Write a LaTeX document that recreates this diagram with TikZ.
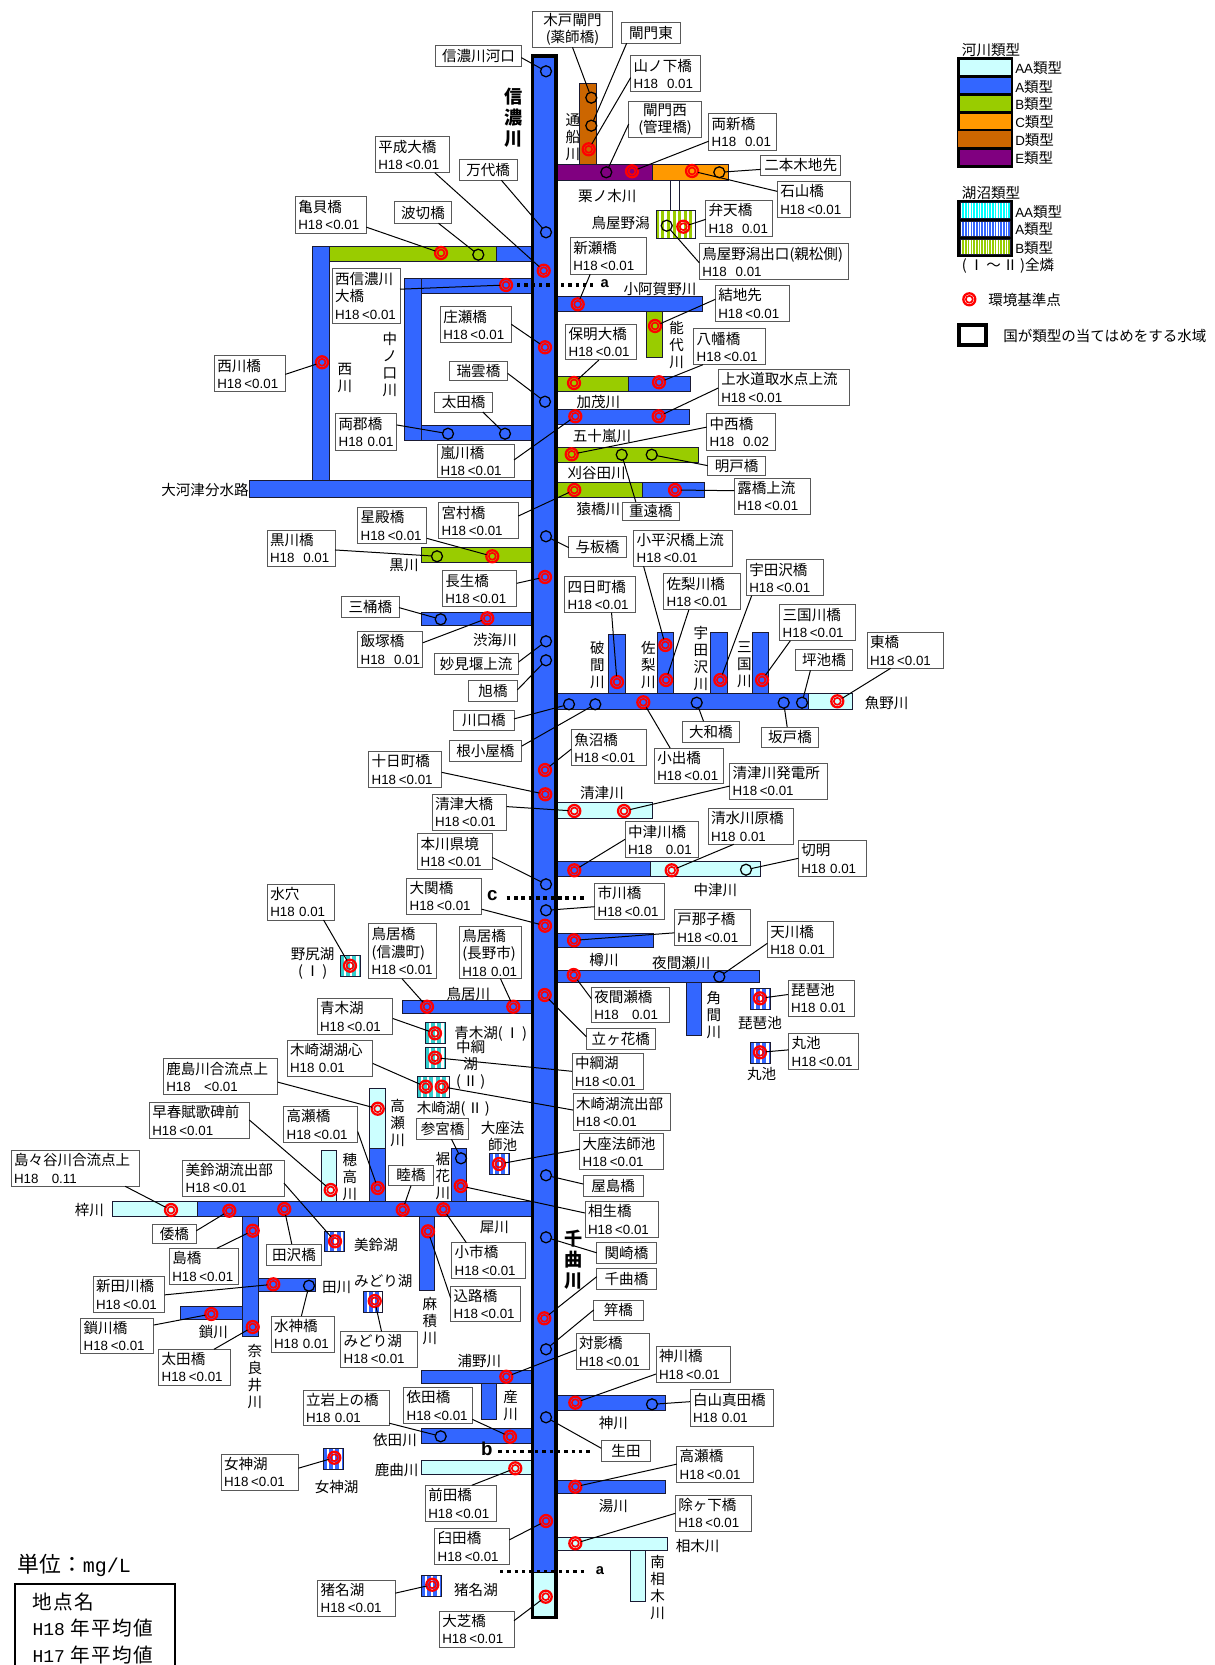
\documentclass[tikz,border=0pt]{standalone}
\usepackage{fontspec}
\setmainfont{Liberation Sans}
\setmonofont{Liberation Mono}
\newfontfamily\cjk[Scale=1.09]{Noto Sans CJK JP}
\usetikzlibrary{calc}
\definecolor{cAA}{HTML}{CCFFFF}
\definecolor{cA}{HTML}{3366FF}
\definecolor{cB}{HTML}{99CC00}
\definecolor{cC}{HTML}{FF9900}
\definecolor{cD}{HTML}{CC6600}
\definecolor{cE}{HTML}{800080}
\definecolor{lAA}{HTML}{33CCCC}
\definecolor{lAAb}{HTML}{00FFFF}
\definecolor{edgec}{HTML}{1A1A33}
\tikzset{
  lab/.style={draw=black!65,fill=white,line width=0.75pt,rectangle,inner xsep=2.25pt,inner ysep=0pt,outer sep=0pt,font=\fontsize{10}{13}\selectfont},
  conn/.style={draw=black,line width=0.75pt},
  openst/.style={circle,draw=black,line width=0.95pt,minimum size=8.25pt,inner sep=0pt,outer sep=0pt},
  envst/.style={circle,draw=red,line width=1.7pt,minimum size=9pt,inner sep=0pt,outer sep=0pt,
    path picture={\draw[red,line width=1.25pt] (path picture bounding box.center) circle (2.6pt);}},
  rv/.style={inner sep=0pt,align=center,font=\cjk\fontsize{10}{12.75}\selectfont},
  lg/.style={inner sep=0pt,anchor=west,font=\fontsize{10}{13}\selectfont},
  bigname/.style={inner sep=0pt,align=center,font=\cjk\bfseries\fontsize{12.5}{15.75}\selectfont},
  dots/.style={draw=black,line width=2.4pt,dash pattern=on 2.6pt off 2.9pt}
}
\newcount\rlc
\newcommand\VL{H18 \kern-1.3pt<0.01}
\newcommand\RV[3]{\global\advance\rlc by 1 \node[rv] (t\the\rlc) at (#1,#2) {#3};}
\newcommand\RR[5]{\draw[fill=#1,draw=edgec,line width=0.65pt] (#2,#3) rectangle (#4,#5);}
\newcommand\lake[7]{%
  \begin{scope}
  \clip (#1,#2) rectangle (#3,#4);
  \fill[#5] (#1,#2) rectangle (#3,#4);
  \pgfmathtruncatemacro\NN{(#3-#1)/#6+1}
  \foreach \k in {0,...,\NN}{\fill[white] ({#1+(\k+0.5)*#6},#2) rectangle ({#1+(\k+0.5)*#6+#7},#4);}
  \end{scope}%
  \draw[draw=edgec,line width=0.6pt] (#1,#2) rectangle (#3,#4);}
\newcommand\SE[3]{\node[envst] (s-#1) at (#2,#3) {};}
\newcommand\SO[3]{\node[openst] (s-#1) at (#2,#3) {};}
\newcommand\LB[7]{%
  \pgfmathsetmacro\TW{(#4-#2)*0.75-4.5}\pgfmathsetmacro\HH{(#5-#3)*0.75}%
  \node[lab,text width=\TW pt,minimum height=\HH pt,align=left] (l-#1) at ({(#2+#4)/2},{(#3+#5)/2}) {{\cjk #6}\\\mbox{#7}};}
\newcommand\LC[6]{%
  \pgfmathsetmacro\TW{(#4-#2)*0.75-4.5}\pgfmathsetmacro\HH{(#5-#3)*0.75}%
  \node[lab,text width=\TW pt,minimum height=\HH pt,align=center] (l-#1) at ({(#2+#4)/2},{(#3+#5)/2}) {\cjk #6};}
\newcommand\CS[2]{\draw[conn] ($(l-#1.south west)!#2!(l-#1.south east)$) -- (s-#1);}
\newcommand\CN[2]{\draw[conn] ($(l-#1.north west)!#2!(l-#1.north east)$) -- (s-#1);}
\newcommand\CW[2]{\draw[conn] ($(l-#1.north west)!#2!(l-#1.south west)$) -- (s-#1);}
\newcommand\CE[2]{\draw[conn] ($(l-#1.north east)!#2!(l-#1.south east)$) -- (s-#1);}
\begin{document}
\begin{tikzpicture}[x=0.75pt,y=-0.75pt]
\useasboundingbox (0,0) rectangle (1214,1665);
\fill[white] (0,0) rectangle (1214,1665);
% ---------- rivers, north part
\RR{cD}{579.3}{83.3}{596}{164}
\RR{cE}{556}{164}{652.7}{180.3}
\RR{cC}{652.7}{164}{728.3}{180.3}
\draw[draw=edgec,line width=0.65pt] (670,180.3) -- (670,210.3) (679.3,180.3) -- (679.3,210.3);
\lake{656}{210.3}{695}{238.3}{cB}{5.6}{2.6}
\RR{cA}{312.3}{246.7}{329.3}{480.7}
\RR{cB}{329.3}{246.7}{496}{261.7}
\RR{cA}{496}{246.7}{531}{261.7}
\RR{cA}{404.3}{278.7}{421.7}{440.3}
\RR{cA}{421.7}{278.7}{531}{293}
\RR{cA}{421.7}{425.3}{531}{440.3}
\RR{cA}{249.3}{480.7}{531}{497.3}
\RR{cA}{556}{296.3}{702.7}{311.7}
\RR{cB}{646.7}{311.7}{662.3}{357.7}
\RR{cB}{556}{376}{628.7}{391}
\RR{cA}{628.7}{376}{690}{391}
\RR{cA}{556}{409}{689.7}{424}
\RR{cB}{556}{447}{698.3}{462}
\RR{cB}{556}{482.3}{642.7}{497.3}
\RR{cA}{642.7}{482.3}{704.7}{497.3}
\RR{cB}{421.3}{547.3}{531}{562.3}
\RR{cA}{421.3}{612.7}{531}{625.7}
\RR{cA}{608.3}{634}{625}{693.3}
\RR{cA}{657}{632.3}{673.7}{693.3}
\RR{cA}{710.3}{632.3}{727}{693.3}
\RR{cA}{752}{632.3}{768.7}{693.3}
\RR{cA}{556}{693.3}{808}{709.7}
\RR{cAA}{808}{693.3}{852}{709.7}
\RR{cAA}{556}{802.7}{652.3}{818.3}
\RR{cA}{556}{861.3}{650.3}{876.3}
\RR{cAA}{650.3}{861.3}{760.3}{876.3}
\RR{cA}{556}{933}{653.3}{947.3}
\RR{cA}{686}{982.3}{701.3}{1035.7}
\RR{cA}{556}{970.3}{759.7}{982.3}
\lake{750.3}{988.3}{770.7}{1009.7}{cA}{6.4}{2.4}
\lake{750.3}{1042.7}{770.7}{1063.7}{cA}{6.4}{2.4}
% ---------- rivers, west middle
\RR{cA}{402.3}{1000.3}{531}{1013.3}
\lake{340.3}{955.3}{360.3}{976.7}{lAA}{6.4}{2.4}
\lake{425.3}{1022.3}{445.3}{1043.3}{lAA}{6.4}{2.4}
\lake{425.3}{1047.3}{445.3}{1068.3}{lAA}{6.4}{2.4}
\lake{417.3}{1076.7}{449.7}{1097.7}{lAA}{6.4}{2.4}
\RR{cAA}{369.7}{1088.3}{385}{1148.7}
\RR{cA}{369.7}{1148.7}{385}{1201.7}
\RR{cAA}{321.3}{1150.7}{336.7}{1201.7}
\RR{cA}{451.3}{1148}{466.7}{1201.7}
\lake{489.3}{1153.3}{509.7}{1174.3}{cA}{6.4}{2.4}
\RR{cAA}{112.7}{1201.7}{197.3}{1216.7}
\RR{cA}{242.7}{1216.7}{258.7}{1336.7}
\RR{cA}{197.3}{1201.7}{531}{1216.7}
\RR{cA}{258.7}{1278}{315}{1291.7}
\RR{cA}{180.3}{1306.7}{242.7}{1319.3}
\lake{324.7}{1231.3}{344.3}{1251.7}{cA}{6.4}{2.4}
\lake{363.3}{1291.7}{382.7}{1312.3}{cA}{6.4}{2.4}
\RR{cA}{419.7}{1216.7}{434.7}{1290.3}
\RR{cA}{421.3}{1370.3}{531}{1383.3}
\RR{cA}{481.3}{1383.3}{496.7}{1419.3}
\RR{cA}{421.3}{1428.3}{531}{1443}
\RR{cAA}{421.3}{1460.7}{531}{1474}
\lake{323.3}{1448.3}{343.7}{1469.3}{cA}{6.4}{2.4}
\lake{421.3}{1575.3}{441.7}{1596.3}{cA}{6.4}{2.4}
\RR{cA}{556}{1395.3}{665.7}{1410}
\RR{cA}{556}{1480.7}{665.7}{1493.3}
\RR{cAA}{630.7}{1550.7}{645.7}{1601.7}
\RR{cAA}{556}{1537.7}{667.3}{1550.7}
% ---------- main river
\fill[cA] (532,55) rectangle (556,1572);
\fill[cAA] (532,1572) rectangle (556,1618);
\draw[black,line width=0.75pt] (532,1572) -- (556,1572);
\draw[black,line width=2.6pt] (532.5,56) rectangle (556,1617.5);
% ---------- dotted section lines
\coordinate (da1) at (517,285); \coordinate (da2) at (593,285);
\coordinate (dc1) at (506.7,898); \coordinate (dc2) at (585,898);
\coordinate (db1) at (498.3,1451.3); \coordinate (db2) at (592.3,1451.3);
\coordinate (dd1) at (500,1571.7); \coordinate (dd2) at (585,1571.7);
\draw[dots] (da1) -- (da2);
\draw[dots] (dc1) -- (dc2);
\draw[dots] (db1) -- (db2);
\draw[dots] (dd1) -- (dd2);
\node[inner sep=0pt,font=\bfseries\fontsize{11}{12}\selectfont] (ma) at (604.7,283.3) {a};
\node[inner sep=0pt,font=\bfseries\fontsize{14}{14}\selectfont] (mc) at (492.3,896) {c};
\node[inner sep=0pt,font=\bfseries\fontsize{14}{14}\selectfont] (mb) at (486.7,1449) {b};
\node[inner sep=0pt,font=\bfseries\fontsize{11}{12}\selectfont] (mz) at (600,1570.5) {a};
% ---------- river names
\node[bigname] (shinano) at (513.3,117.7) {信\\濃\\川};
\node[bigname] (chikuma) at (573.3,1259.5) {千\\曲\\川};
\RV{573}{137}{通\\船\\川}
\RV{607.3}{195.7}{栗ノ木川}
\RV{620.7}{222.7}{鳥屋野潟}
\RV{660}{288.7}{小阿賀野川}
\RV{676.7}{345}{能\\代\\川}
\RV{598.3}{401.7}{加茂川}
\RV{602}{435.7}{五十嵐川}
\RV{596.7}{472.7}{刈谷田川}
\RV{598.3}{508.7}{猿橋川}
\RV{597.3}{664.7}{破\\間\\川}
\RV{648.3}{664.7}{佐\\梨\\川}
\RV{701}{659}{宇\\田\\沢\\川}
\RV{744.3}{664.7}{三\\国\\川}
\RV{886.7}{703.3}{魚野川}
\RV{495}{640}{渋海川}
\RV{404}{565.7}{黒川}
\RV{602}{792.7}{清津川}
\RV{715.3}{889.7}{中津川}
\RV{604}{960}{樽川}
\RV{681.3}{962.7}{夜間瀬川}
\RV{714}{1015}{角\\間\\川}
\RV{760}{1022.7}{琵琶池}
\RV{761.7}{1073.7}{丸池}
\RV{345}{378.3}{西\\川}
\RV{390}{364.5}{中\\ノ\\口\\川}
\RV{205}{490}{大河津分水路}
\RV{312.7}{963.5}{野尻湖\\(\,Ⅰ\,)}
\RV{468.3}{994}{鳥居川}
\RV{490.7}{1034.3}{青木湖(\,Ⅰ\,)}
\RV{470.7}{1065.3}{中綱\\湖\\(\,Ⅱ\,)}
\RV{453.3}{1109}{木崎湖(\,Ⅱ\,)}
\RV{502.7}{1136.7}{大座法\\師池}
\RV{397.7}{1123.3}{高\\瀬\\川}
\RV{350}{1177}{穂\\高\\川}
\RV{443}{1176.5}{裾\\花\\川}
\RV{494.3}{1227.7}{犀川}
\RV{89.3}{1210}{梓川}
\RV{376}{1245}{美鈴湖}
\RV{336.7}{1287}{田川}
\RV{383.3}{1280.7}{みどり湖}
\RV{213.3}{1332}{鎖川}
\RV{255}{1376.5}{奈\\良\\井\\川}
\RV{430}{1321}{麻\\積\\川}
\RV{479.3}{1361}{浦野川}
\RV{510.7}{1405.7}{産\\川}
\RV{395}{1440}{依田川}
\RV{396.7}{1470}{鹿曲川}
\RV{336.7}{1486.7}{女神湖}
\RV{476}{1590}{猪名湖}
\RV{613.3}{1422.7}{神川}
\RV{613.3}{1506}{湯川}
\RV{697.7}{1546}{相木川}
\RV{657.7}{1588}{南\\相\\木\\川}
% ---------- stations
\SO{kako}{546}{71.3}
\SO{kido}{591.3}{97.7}
\SO{komonh}{591.3}{125.7}
\SE{yamanoshita}{588.7}{149.3}
\SO{komonn}{606.3}{172.3}
\SE{ryoshin}{632}{171.3}
\SE{ishiyama}{692}{171}
\SO{nihongi}{719.3}{172.3}
\SE{benten}{683.3}{226.7}
\SO{toyano}{666.7}{225.7}
\SO{bandai}{546}{232.3}
\SE{heisei}{543.7}{270.7}
\SE{arase}{577.7}{304.3}
\SE{musubi}{655}{326}
\SE{shose}{545}{347.3}
\SE{homei}{574}{383}
\SE{hachiman}{659}{382.3}
\SO{zuiun}{545}{401.7}
\SO{namikiri}{478.3}{254.7}
\SE{kamegai}{441}{253}
\SE{nishishinano}{506}{285}
\SE{nishikawa}{322}{362.3}
\SO{ryogun}{448}{433.7}
\SO{ota}{505}{433.7}
\SE{arashi}{575.3}{416.3}
\SE{josui}{658.7}{416.3}
\SE{nakanishi}{571.7}{454.3}
\SO{shigeto}{621.7}{454.7}
\SO{myoto}{651.7}{454.7}
\SE{miyamura}{574.3}{490}
\SE{tsuyu}{675}{490}
\SO{yoita}{546}{536.3}
\SE{hoshidono}{492.3}{556.3}
\SO{kurokawa}{437}{556.3}
\SE{nagao}{545}{577}
\SO{mitsuoke}{440.7}{619.3}
\SE{iizuka}{487.3}{618.3}
\SO{myoken}{546}{641.3}
\SO{asahi}{546}{660.3}
\SO{kawaguchi}{569}{704.3}
\SE{yokka}{617}{682}
\SE{kodaira}{665.3}{645}
\SE{sanashi}{666}{680}
\SE{udazawa}{720.3}{680}
\SE{mikuni}{762}{680}
\SE{koide}{643.3}{702.3}
\SO{yamato}{696.7}{702.7}
\SO{sakado}{783.7}{702.7}
\SO{tsuboike}{802}{702.7}
\SE{higashi}{837.3}{701.3}
\SO{nekoya}{595.3}{704.3}
\SE{uonuma}{545}{770}
\SE{tokamachi}{545.3}{794.3}
\SE{kiyotsuo}{574.3}{811}
\SE{kiyotsuh}{624}{811}
\SO{honkawa}{546}{884.3}
\SE{nakatsu}{574.3}{870.3}
\SE{shimizu}{671.7}{870.3}
\SO{kiriake}{746}{869.7}
\SO{ichikawa}{546}{910.3}
\SE{ozeki}{545}{925.7}
\SE{tonako}{574}{940.3}
\SE{yomase}{573.7}{975}
\SO{amakawa}{719.3}{976.7}
\SE{tategahana}{544.7}{995}
\SE{biwa}{760}{998.3}
\SE{maru}{760}{1052.3}
\SE{mizuana}{350}{965.7}
\SE{toriis}{427}{1006.7}
\SE{toriin}{513.3}{1006.7}
\SE{aoki}{435}{1033.3}
\SE{nakatsuna}{435}{1057.7}
\SE{kizakic}{425.7}{1086.7}
\SE{kizakir}{441.7}{1086.7}
\SE{kashima}{377.7}{1108.7}
\SE{takasen}{377.7}{1188}
\SE{sosyun}{330.7}{1190}
\SO{sangu}{461}{1158.3}
\SE{daiza}{499}{1164}
\SO{yashima}{546}{1175.3}
\SE{aioi}{460.7}{1186}
\SE{mutsumi}{402.7}{1209.7}
\SE{koichi}{443.3}{1209.3}
\SE{shimajima}{171}{1210}
\SE{yamato2}{229.3}{1210.7}
\SE{tazawa}{284.3}{1209}
\SE{shima}{252.7}{1230.7}
\SE{misuzu}{335}{1241.3}
\SE{nitta}{273.3}{1284.3}
\SO{mizukami}{309}{1285.7}
\SE{kusari}{211.3}{1314}
\SE{ota2}{252.7}{1327}
\SE{midori}{374.7}{1301}
\SE{komichi}{428}{1231.3}
\SO{sekizaki}{546}{1237.3}
\SE{chikumab}{544.3}{1318.3}
\SO{kogai}{546}{1349.3}
\SE{taiei}{506.3}{1376.7}
\SE{yoda}{510}{1436.7}
\SO{tateiwa}{440.7}{1436.3}
\SO{ikuta}{546}{1417.3}
\SE{maeda}{515.3}{1468.3}
\SE{usuda}{546}{1521}
\SE{oshiba}{545.7}{1596.7}
\SE{onagami}{334.3}{1457.7}
\SE{inamiko}{432.3}{1584.7}
\SE{kamikawa}{575.3}{1402.7}
\SO{shirayama}{652}{1404.3}
\SE{takaseb}{575.3}{1486.7}
\SE{yogeshita}{575.3}{1543.3}
% ---------- labels
\LC{kido}{532.3}{11.3}{612.7}{47.3}{木戸閘門\\(薬師橋)}
\LC{komonh}{621.3}{23}{680.7}{43.3}{閘門東}
\LC{kako}{435.7}{45.7}{521.3}{66.3}{信濃川河口}
\LB{yamanoshita}{630.7}{56}{700.3}{92}{山ノ下橋}{H18~~0.01}
\LC{komonn}{628.7}{101.7}{701.3}{137.7}{閘門西\\(管理橋)}
\LB{ryoshin}{708.7}{114}{776.3}{150.3}{両新橋}{H18~~0.01}
\LC{nihongi}{760.7}{155.7}{840.7}{175.3}{二本木地先}
\LB{ishiyama}{777.3}{181.3}{850}{217.3}{石山橋}{\VL}
\LB{benten}{705.7}{200.3}{772}{236.3}{弁天橋}{H18~~0.01}
\LB{toyano}{699.3}{243.7}{848.7}{279.7}{鳥屋野潟出口(親松側)}{H18~~0.01}
\LB{arase}{570.3}{238}{646.7}{274.3}{新瀬橋}{\VL}
\LB{musubi}{715.3}{285.3}{789.3}{321.3}{結地先}{\VL}
\LB{hachiman}{693.7}{329}{765.3}{364.7}{八幡橋}{\VL}
\LB{homei}{565.7}{324.3}{636.3}{360}{保明大橋}{\VL}
\LB{josui}{718.3}{369.3}{849}{405.3}{上水道取水点上流}{\VL}
\LC{bandai}{459.3}{159.3}{517}{180.3}{万代橋}
\LB{heisei}{375.3}{136.7}{449.7}{172.7}{平成大橋}{\VL}
\LC{namikiri}{394.3}{202}{451.7}{223.3}{波切橋}
\LB{kamegai}{295.3}{197}{366.3}{233.3}{亀貝橋}{\VL}
\LB{nishishinano}{332}{268.3}{400}{323.3}{西信濃川\\大橋}{\VL}
\LB{shose}{440.3}{307}{511.3}{343}{庄瀬橋}{\VL}
\LC{zuiun}{449.3}{362}{507.7}{381}{瑞雲橋}
\LB{nishikawa}{214.3}{356}{285.3}{391.3}{西川橋}{\VL}
\LC{ota}{434.7}{392.7}{492.7}{412}{太田橋}
\LB{ryogun}{335.7}{413.7}{396.7}{450}{両郡橋}{H18 0.01}
\LB{arashi}{437.7}{444}{514}{477.3}{嵐川橋}{\VL}
\LB{nakanishi}{706.7}{413.7}{775.7}{450}{中西橋}{H18~~0.02}
\LC{myoto}{707.7}{456.7}{765.7}{475.7}{明戸橋}
\LC{shigeto}{622}{502}{679.7}{520.7}{重遠橋}
\LB{tsuyu}{734.3}{478}{810.7}{514.3}{露橋上流}{\VL}
\LC{yoita}{568.7}{536.7}{626.3}{557.7}{与板橋}
\LB{kodaira}{633.7}{530}{732.7}{566.3}{小平沢橋上流}{\VL}
\LB{yokka}{564.7}{576.7}{635.7}{612.7}{四日町橋}{\VL}
\LB{sanashi}{663.7}{573.7}{740}{609.7}{佐梨川橋}{\VL}
\LB{udazawa}{746.3}{559.7}{823}{595.7}{宇田沢橋}{\VL}
\LB{mikuni}{779.7}{604.7}{855.7}{640.7}{三国川橋}{\VL}
\LC{tsuboike}{795.7}{649.3}{852.3}{670.3}{坪池橋}
\LB{higashi}{867}{632.3}{943.3}{668.3}{東橋}{\VL}
\LC{yamato}{682.7}{721.3}{739}{742}{大和橋}
\LC{sakado}{761.7}{727}{818.3}{747.7}{坂戸橋}
\LB{koide}{654.3}{748}{723}{783.3}{小出橋}{\VL}
\LB{uonuma}{571.3}{729.7}{646.7}{765.7}{魚沼橋}{\VL}
\LB{kiyotsuh}{729.7}{763}{827.3}{799}{清津川発電所}{\VL}
\LB{nakatsu}{625}{821.7}{698.3}{857.7}{中津川橋}{H18~~~0.01}
\LB{shimizu}{708}{808.3}{793.7}{844.3}{清水川原橋}{H18 0.01}
\LB{kiriake}{798.3}{840.7}{866.3}{876.7}{切明}{H18 0.01}
\LB{ichikawa}{594.7}{883.3}{664.3}{919.3}{市川橋}{\VL}
\LB{tonako}{674.3}{909.7}{750.3}{945.3}{戸那子橋}{\VL}
\LB{amakawa}{767.3}{921.7}{833.3}{957.7}{天川橋}{H18 0.01}
\LB{yomase}{591.3}{987.3}{669.3}{1022.7}{夜間瀬橋}{H18~~~0.01}
\LC{tategahana}{586.3}{1028.7}{655.3}{1049.3}{立ヶ花橋}
\LB{biwa}{788}{980}{854}{1016.3}{琵琶池}{H18 0.01}
\LB{maru}{788.7}{1033.3}{858.3}{1069.3}{丸池}{\VL}
\LB{nakatsuna}{572}{1053.3}{643.7}{1089.3}{中綱湖}{\VL}
\LB{kizakir}{573}{1093.7}{670.3}{1130}{木崎湖流出部}{\VL}
\LB{daiza}{579.7}{1133.7}{663.3}{1169.7}{大座法師池}{\VL}
\LC{yashima}{583.3}{1175}{643}{1196}{屋島橋}
\LB{aioi}{585}{1201.7}{658.3}{1237}{相生橋}{\VL}
\LC{sekizaki}{596.7}{1242.7}{656.3}{1263.3}{関崎橋}
\LC{chikumab}{596.7}{1268.7}{656.3}{1289.7}{千曲橋}
\LC{kogai}{593.7}{1300}{643}{1320.7}{笄橋}
\LB{taiei}{576}{1333.3}{649.3}{1369.3}{対影橋}{\VL}
\LB{kamikawa}{656}{1346.3}{730.7}{1382.3}{神川橋}{\VL}
\LB{shirayama}{690}{1389.7}{773.3}{1426}{白山真田橋}{H18 0.01}
\LC{ikuta}{601.3}{1440.7}{650.7}{1461.7}{生田}
\LB{takaseb}{676.7}{1446.7}{753}{1482.3}{高瀬橋}{\VL}
\LB{yogeshita}{675.3}{1495}{751.3}{1531}{除ヶ下橋}{\VL}
\LB{oshiba}{439.3}{1611}{514}{1647}{大芝橋}{\VL}
\LB{inamiko}{317.7}{1580.3}{395.3}{1616}{猪名湖}{\VL}
\LB{usuda}{434.7}{1528.3}{509.3}{1564.3}{臼田橋}{\VL}
\LB{maeda}{425.3}{1485.3}{496.7}{1521.3}{前田橋}{\VL}
\LB{onagami}{221}{1454.3}{298.3}{1490}{女神湖}{\VL}
\LB{tateiwa}{303}{1390}{389.3}{1425.7}{立岩上の橋}{H18 0.01}
\LB{yoda}{403.7}{1387.3}{472.3}{1423.3}{依田橋}{\VL}
\LB{midori}{340.7}{1331.3}{417.7}{1367.3}{みどり湖}{\VL}
\LB{mizukami}{271}{1316}{334.3}{1352}{水神橋}{H18 0.01}
\LB{komichi}{450.7}{1286}{520.3}{1321.7}{込路橋}{\VL}
\LB{koichi}{451.7}{1242.7}{525}{1278.3}{小市橋}{\VL}
\LC{tazawa}{266.3}{1244}{321.7}{1265.3}{田沢橋}
\LB{shima}{169.3}{1248.3}{238.3}{1284.3}{島橋}{\VL}
\LC{yamato2}{152.3}{1224.3}{196.3}{1243.3}{倭橋}
\LB{shimajima}{11}{1150.7}{139.3}{1186.3}{島々谷川合流点上}{H18~~~0.11}
\LB{misuzu}{182.7}{1160.3}{284}{1196}{美鈴湖流出部}{\VL}
\LB{nitta}{93}{1276.7}{164.7}{1312.3}{新田川橋}{\VL}
\LB{kusari}{80.7}{1318.3}{153.7}{1353.7}{鎖川橋}{\VL}
\LB{ota2}{158.7}{1349.3}{230.5}{1385}{太田橋}{\VL}
\LB{sosyun}{149.3}{1102.3}{249.3}{1138.3}{早春賦歌碑前}{\VL}
\LB{kashima}{163.3}{1058.7}{277.7}{1094.7}{鹿島川合流点上}{H18~~~<0.01}
\LB{takasen}{283.7}{1106.3}{357.7}{1142.3}{高瀬橋}{\VL}
\LB{kizakic}{287}{1040}{372.7}{1076}{木崎湖湖心}{H18 0.01}
\LB{mizuana}{267.3}{884.3}{334.3}{920}{水穴}{H18 0.01}
\LB{ozeki}{406.7}{878}{481.7}{914.3}{大関橋}{\VL}
\LB{toriis}{368.7}{923.3}{436.7}{978.7}{鳥居橋\\(信濃町)}{\VL}
\LB{toriin}{459.3}{926.7}{521.7}{978.7}{鳥居橋\\(長野市)}{H18 0.01}
\LB{aoki}{317}{998.3}{392.7}{1034.3}{青木湖}{\VL}
\LC{sangu}{416.7}{1118.7}{468.7}{1139.3}{参宮橋}
\LC{mutsumi}{388.7}{1165}{433.3}{1185.7}{睦橋}
\LB{hoshidono}{357.7}{507.7}{426.7}{543.3}{星殿橋}{\VL}
\LB{miyamura}{438.7}{502.7}{518.3}{538.7}{宮村橋}{\VL}
\LB{kurokawa}{267}{530}{335}{566.3}{黒川橋}{H18~~0.01}
\LB{nagao}{442.3}{570.7}{516.7}{606.7}{長生橋}{\VL}
\LC{mitsuoke}{341.7}{596.7}{399}{617.3}{三桶橋}
\LB{iizuka}{357.7}{631.3}{422.7}{667.3}{飯塚橋}{H18~~0.01}
\LC{myoken}{434}{653.7}{518.3}{674}{妙見堰上流}
\LC{asahi}{468.7}{680.7}{517.3}{701.3}{旭橋}
\LC{kawaguchi}{453.7}{710}{514}{730.7}{川口橋}
\LC{nekoya}{449}{740.3}{521.7}{761}{根小屋橋}
\LB{tokamachi}{368.7}{751.7}{441.7}{787.3}{十日町橋}{\VL}
\LB{kiyotsuo}{432}{794}{506.7}{830}{清津大橋}{\VL}
\LB{honkawa}{417.7}{833.7}{492.3}{869.7}{本川県境}{\VL}
% ---------- connectors
\CE{kako}{.58}
\CS{kido}{.5}
\CS{komonh}{.09}
\CW{yamanoshita}{.6}
\CW{komonn}{.62}
\CW{ryoshin}{.75}
\CW{nihongi}{.7}
\CW{ishiyama}{.28}
\CW{benten}{.53}
\CW{toyano}{.53}
\CS{arase}{.26}
\CW{musubi}{.39}
\CS{hachiman}{.13}
\CS{homei}{.47}
\CW{josui}{.52}
\CS{bandai}{.73}
\CS{heisei}{.8}
\CS{namikiri}{.77}
\CE{kamegai}{.83}
\CE{nishishinano}{.38}
\CE{shose}{.48}
\CE{zuiun}{.6}
\CE{nishikawa}{.52}
\CS{ota}{.83}
\CE{ryogun}{.31}
\CE{arashi}{.48}
\CW{nakanishi}{.37}
\CW{myoto}{.47}
\CN{shigeto}{.24}
\CW{tsuyu}{.35}
\CE{miyamura}{.37}
\CW{yoita}{.52}
\CS{kodaira}{.1}
\CS{yokka}{.66}
\CS{sanashi}{.33}
\CS{udazawa}{.07}
\CS{mikuni}{.14}
\CS{tsuboike}{.26}
\CS{higashi}{.31}
\CN{yamato}{.37}
\CN{sakado}{.45}
\CN{koide}{.23}
\CW{uonuma}{.54}
\CW{kiyotsuh}{.64}
\CW{nakatsu}{.49}
\CS{shimizu}{.3}
\CW{kiriake}{.49}
\CW{ichikawa}{.65}
\CW{tonako}{.65}
\CW{amakawa}{.6}
\CW{yomase}{.32}
\CW{tategahana}{.39}
\CW{biwa}{.4}
\CW{maru}{.46}
\CW{nakatsuna}{.5}
\CW{kizakir}{.45}
\CW{daiza}{.43}
\CW{yashima}{.43}
\CW{aioi}{.32}
\CW{sekizaki}{.49}
\CW{chikumab}{.38}
\CW{kogai}{.48}
\CW{taiei}{.46}
\CW{kamikawa}{.77}
\CW{shirayama}{.33}
\CW{ikuta}{.36}
\CW{takaseb}{.49}
\CW{yogeshita}{.51}
\CE{oshiba}{.27}
\CE{inamiko}{.36}
\CE{usuda}{.32}
\CN{maeda}{.65}
\CE{onagami}{.39}
\CE{tateiwa}{.93}
\CE{yoda}{.89}
\CN{midori}{.53}
\CN{mizukami}{.48}
\CW{komichi}{.34}
\CN{koichi}{.2}
\CN{tazawa}{.46}
\CN{shima}{.69}
\CE{yamato2}{.34}
\CS{shimajima}{.89}
\CE{misuzu}{.64}
\CE{nitta}{.51}
\CE{kusari}{.19}
\CN{ota2}{.77}
\CE{sosyun}{.49}
\CE{kashima}{.65}
\CE{takasen}{.7}
\CE{kizakic}{.65}
\CS{mizuana}{.84}
\CE{ozeki}{.86}
\CS{toriis}{.49}
\CS{toriin}{.66}
\CE{aoki}{.56}
\CS{sangu}{.67}
\CS{mutsumi}{.5}
\CE{hoshidono}{.86}
\CE{kurokawa}{.55}
\CE{nagao}{.35}
\CE{mitsuoke}{.53}
\CE{iizuka}{.32}
\CE{myoken}{.42}
\CE{asahi}{.45}
\CE{kawaguchi}{.43}
\CE{nekoya}{.28}
\CE{tokamachi}{.58}
\CE{kiyotsuo}{.35}
\CE{honkawa}{.66}
% ---------- legend
\node[lg] (g1) at (961.7,50) {\cjk 河川類型};
\fill[black] (957.3,57.3) rectangle (1013.3,168.3);
\fill[cAA] (960,59.7) rectangle (1010.7,75);
\fill[cA] (960,78) rectangle (1010.7,93);
\fill[cB] (960,96) rectangle (1010.7,111);
\fill[cC] (960,114) rectangle (1010.7,129);
\fill[cD] (958,131) rectangle (1010.7,147.3);
\fill[cE] (960,150) rectangle (1010.7,165);
\node[lg] (g2) at (1015,68.3) {AA{\cjk 類型}};
\node[lg] (g3) at (1015,86.7) {A{\cjk 類型}};
\node[lg] (g4) at (1015,103.7) {B{\cjk 類型}};
\node[lg] (g5) at (1015,121.7) {C{\cjk 類型}};
\node[lg] (g6) at (1015,140) {D{\cjk 類型}};
\node[lg] (g7) at (1015,157.7) {E{\cjk 類型}};
\node[lg] (g8) at (961.7,192.7) {\cjk 湖沼類型};
\fill[black] (957.3,200) rectangle (1013.3,256.7);
\lake{960}{202.7}{1010.7}{218.3}{lAAb}{2.7}{1.1}
\lake{960}{221}{1010.7}{236}{cA}{2.7}{1.1}
\lake{960}{239}{1010.7}{254.3}{cB}{2.7}{1.1}
\node[lg] (g9) at (1015,211.7) {AA{\cjk 類型}};
\node[lg] (g10) at (1015,229.3) {A{\cjk 類型}};
\node[lg] (g11) at (1015,247.7) {B{\cjk 類型}};
\node[lg] (g12) at (961.7,265.7) {\cjk (\,Ⅰ\,～\,Ⅱ\,)全燐};
\node[envst] (g13) at (969.3,299.3) {};
\node[lg] (g14) at (988,300) {\cjk 環境基準点};
\node[draw=black,line width=3pt,minimum width=20pt,minimum height=15pt,inner sep=0pt,fill=white] (g15) at (972.2,335) {};
\node[lg] (g16) at (1003,335.7) {\cjk 国が類型の当てはめをする水域};
% ---------- unit box
\node[inner sep=0pt,anchor=west,font=\fontsize{15}{17}\selectfont] (unit) at (17.3,1565) {{\cjk 単位：}\texttt{mg/L}};
\coordinate (ub1) at (15,1670); \coordinate (ub2) at (15,1584); \coordinate (ub3) at (175,1584); \coordinate (ub4) at (175,1670);
\draw[black,line width=1.5pt] (ub1) -- (ub2) -- (ub3) -- (ub4);
\node[inner sep=0pt,anchor=west,font=\fontsize{13.5}{15}\selectfont] (u1) at (32.3,1601.7) {\cjk 地\kern1pt 点\kern1pt 名};
\node[inner sep=0pt,anchor=west,font=\fontsize{13.5}{15}\selectfont] (u2) at (32.3,1627.7) {\texttt{H18}\kern4pt{\cjk 年\kern1pt 平\kern1pt 均\kern1pt 値}};
\node[inner sep=0pt,anchor=west,font=\fontsize{13.5}{15}\selectfont] (u3) at (32.3,1655) {\texttt{H17}\kern4pt{\cjk 年\kern1pt 平\kern1pt 均\kern1pt 値}};
\end{tikzpicture}
\end{document}
